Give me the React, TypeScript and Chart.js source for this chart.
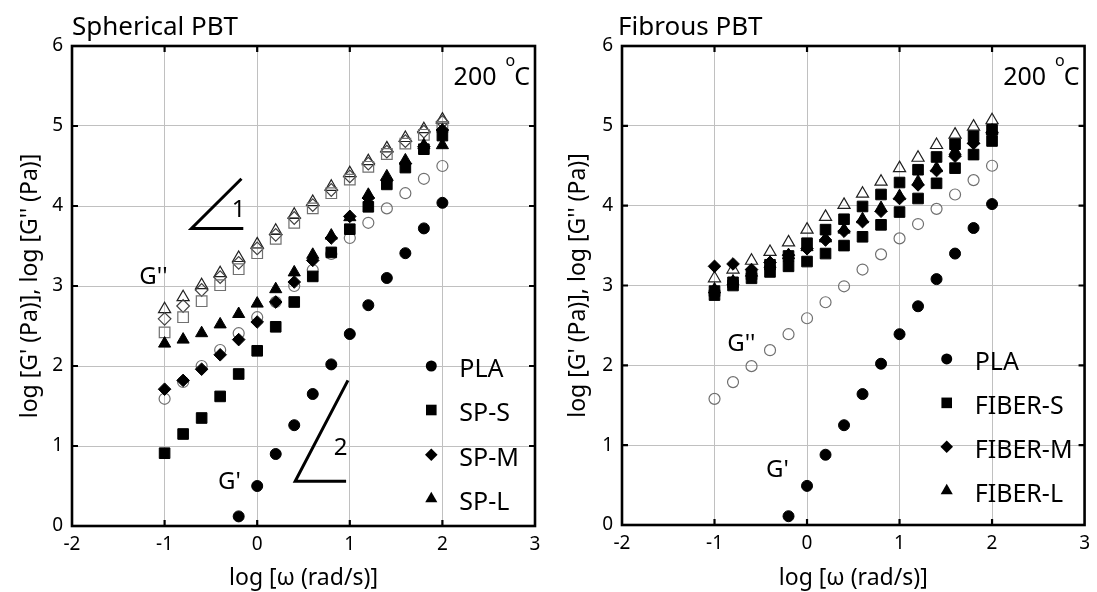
import React, { useEffect, useRef } from "react";
import { Chart, registerables } from "chart.js";

Chart.register(...registerables);

const FONT = '"Noto Sans", "DejaVu Sans", sans-serif';

// ---------- data ----------
const logOmega = [-1, -0.8, -0.6, -0.4, -0.2, 0, 0.2, 0.4, 0.6, 0.8, 1, 1.2, 1.4, 1.6, 1.8, 2];
const xTickValues = [-2, -1, 0, 1, 2, 3];
const yTickValues = [0, 1, 2, 3, 4, 5, 6];

// Spherical PBT panel
const plaG1Sph = [null, null, null, null, 0.12, 0.5, 0.9, 1.26, 1.65, 2.02, 2.4, 2.76, 3.1, 3.41, 3.72, 4.04];
const plaG2Sph = [1.59, 1.8, 2.0, 2.2, 2.41, 2.61, 2.8, 3.0, 3.2, 3.4, 3.6, 3.79, 3.97, 4.16, 4.34, 4.5];
const spsG1 = [0.91, 1.15, 1.35, 1.62, 1.9, 2.19, 2.49, 2.8, 3.12, 3.42, 3.71, 3.99, 4.27, 4.48, 4.71, 4.88];
const spmG1 = [1.71, 1.82, 1.96, 2.14, 2.33, 2.55, 2.8, 3.05, 3.32, 3.6, 3.87, 4.1, 4.32, 4.53, 4.74, 4.95];
const splG1 = [2.28, 2.33, 2.41, 2.52, 2.65, 2.78, 2.96, 3.17, 3.39, 3.63, 3.86, 4.14, 4.37, 4.57, 4.76, 4.76];
const spsG2 = [2.42, 2.61, 2.81, 3.01, 3.21, 3.41, 3.59, 3.79, 3.97, 4.16, 4.33, 4.49, 4.65, 4.78, 4.89, 4.99];
const spmG2 = [2.59, 2.75, 2.95, 3.11, 3.29, 3.47, 3.64, 3.85, 4.01, 4.2, 4.37, 4.53, 4.68, 4.81, 4.93, 5.05];
const splG2 = [2.71, 2.86, 3.01, 3.16, 3.35, 3.52, 3.69, 3.89, 4.05, 4.24, 4.41, 4.56, 4.72, 4.85, 4.96, 5.08];

// Fibrous PBT panel
const plaG1Fib = [null, null, null, null, 0.11, 0.49, 0.88, 1.25, 1.64, 2.02, 2.39, 2.74, 3.08, 3.4, 3.72, 4.02];
const plaG2Fib = [1.58, 1.79, 1.99, 2.19, 2.39, 2.59, 2.79, 2.99, 3.2, 3.39, 3.59, 3.77, 3.96, 4.14, 4.32, 4.5];
const fibSUpper = [2.93, 3.04, 3.14, 3.26, 3.37, 3.53, 3.7, 3.83, 3.99, 4.14, 4.29, 4.45, 4.61, 4.77, 4.87, 4.95];
const fibSLower = [2.88, 3.0, 3.09, 3.17, 3.24, 3.3, 3.4, 3.5, 3.61, 3.76, 3.92, 4.09, 4.28, 4.47, 4.64, 4.81];
const fibM = [3.24, 3.27, 3.2, 3.29, 3.38, 3.46, 3.57, 3.68, 3.8, 3.93, 4.09, 4.26, 4.44, 4.62, 4.78, 4.92];
const fibL = [2.95, 3.05, 3.16, 3.27, 3.38, 3.48, 3.59, 3.7, 3.83, 3.97, 4.12, 4.3, 4.47, 4.68, 4.82, 4.94];
const fibLG2 = [3.09, 3.2, 3.31, 3.42, 3.54, 3.7, 3.86, 4.01, 4.15, 4.3, 4.47, 4.6, 4.76, 4.89, 4.99, 5.07];

// ---------- styling ----------
type MarkerStyle = "circle" | "rect" | "rectRot" | "triangle";
interface SeriesDef {
  label: string;
  values: (number | null)[];
  style: MarkerStyle;
  filled: boolean;
  color: string;
}
const RADIUS: Record<MarkerStyle, number> = { circle: 5.5, rect: 7.5, rectRot: 6.3, triangle: 7 };

interface TextLabel { text: string; x: number; y: number }
interface Slope { ax: number; ay: number; bx: number; by: number; cx: number; label: string; lx: number; ly: number }
interface PanelCfg {
  title: string;
  series: SeriesDef[];
  legend: { label: string; style: MarkerStyle }[];
  legendX: number;
  legendY: number[];
  labels: TextLabel[];
  slopes: Slope[];
  yAxisWidth: number;
  xAxisHeight: number;
  padRight: number;
  titleDx: number;
}

const sphCfg: PanelCfg = {
  title: "Spherical PBT",
  series: [
    { label: "PLA G'", values: plaG1Sph, style: "circle", filled: true, color: "#000" },
    { label: "SP-S G'", values: spsG1, style: "rect", filled: true, color: "#000" },
    { label: "SP-M G'", values: spmG1, style: "rectRot", filled: true, color: "#000" },
    { label: "SP-L G'", values: splG1, style: "triangle", filled: true, color: "#000" },
    { label: "PLA G''", values: plaG2Sph, style: "circle", filled: false, color: "#707070" },
    { label: "SP-S G''", values: spsG2, style: "rect", filled: false, color: "#707070" },
    { label: "SP-M G''", values: spmG2, style: "rectRot", filled: false, color: "#404040" },
    { label: "SP-L G''", values: splG2, style: "triangle", filled: false, color: "#202020" },
  ],
  legend: [
    { label: "PLA", style: "circle" },
    { label: "SP-S", style: "rect" },
    { label: "SP-M", style: "rectRot" },
    { label: "SP-L", style: "triangle" },
  ],
  legendX: 1.88,
  legendY: [2.0, 1.45, 0.89, 0.34],
  labels: [
    { text: "G''", x: -1.12, y: 3.11 },
    { text: "G'", x: -0.3, y: 0.55 },
  ],
  slopes: [
    { ax: -0.71, ay: 3.72, bx: -0.17, by: 4.34, cx: -0.15, label: "1", lx: -0.2, ly: 3.95 },
    { ax: 0.41, ay: 0.56, bx: 0.98, by: 1.82, cx: 0.96, label: "2", lx: 0.9, ly: 0.97 },
  ],
  yAxisWidth: 72,
  xAxisHeight: 66,
  padRight: 13,
  titleDx: 0,
};

const fibCfg: PanelCfg = {
  title: "Fibrous PBT",
  series: [
    { label: "PLA G'", values: plaG1Fib, style: "circle", filled: true, color: "#000" },
    { label: "FIBER-S a", values: fibSUpper, style: "rect", filled: true, color: "#000" },
    { label: "FIBER-M", values: fibM, style: "rectRot", filled: true, color: "#000" },
    { label: "FIBER-L", values: fibL, style: "triangle", filled: true, color: "#000" },
    { label: "FIBER-S b", values: fibSLower, style: "rect", filled: true, color: "#000" },
    { label: "PLA G''", values: plaG2Fib, style: "circle", filled: false, color: "#707070" },
    { label: "FIBER-L G''", values: fibLG2, style: "triangle", filled: false, color: "#202020" },
  ],
  legend: [
    { label: "PLA", style: "circle" },
    { label: "FIBER-S", style: "rect" },
    { label: "FIBER-M", style: "rectRot" },
    { label: "FIBER-L", style: "triangle" },
  ],
  legendX: 1.51,
  legendY: [2.08, 1.53, 0.98, 0.43],
  labels: [
    { text: "G''", x: -0.71, y: 2.27 },
    { text: "G'", x: -0.32, y: 0.69 },
  ],
  slopes: [],
  yAxisWidth: 74,
  xAxisHeight: 67,
  padRight: 11,
  titleDx: -4,
};

function drawMarker(ctx: CanvasRenderingContext2D, style: MarkerStyle, x: number, y: number) {
  const r = RADIUS[style];
  ctx.beginPath();
  if (style === "circle") {
    ctx.arc(x, y, r, 0, Math.PI * 2);
  } else if (style === "rect") {
    const s = r * Math.SQRT1_2;
    ctx.rect(x - s, y - s, 2 * s, 2 * s);
  } else if (style === "rectRot") {
    ctx.moveTo(x - r, y);
    ctx.lineTo(x, y - r);
    ctx.lineTo(x + r, y);
    ctx.lineTo(x, y + r);
    ctx.closePath();
  } else {
    ctx.moveTo(x, y - r);
    ctx.lineTo(x + r * 0.866, y + r * 0.5);
    ctx.lineTo(x - r * 0.866, y + r * 0.5);
    ctx.closePath();
  }
  ctx.fill();
}

function makeOverlay(cfg: PanelCfg) {
  return {
    id: "panelOverlay",
    afterDraw(chart: any) {
      const { ctx, chartArea: a, scales } = chart;
      const xs = scales.x;
      const ys = scales.y;
      const px = (v: number) => xs.getPixelForValue(v);
      const py = (v: number) => ys.getPixelForValue(v);
      ctx.save();
      ctx.strokeStyle = "#000";
      ctx.fillStyle = "#000";
      // frame
      ctx.lineWidth = 2.6;
      ctx.strokeRect(a.left, a.top, a.right - a.left, a.bottom - a.top);
      // inward ticks
      ctx.lineWidth = 2.2;
      ctx.beginPath();
      xTickValues.slice(1, -1).forEach((v) => {
        const x = px(v);
        ctx.moveTo(x, a.top);
        ctx.lineTo(x, a.top + 6);
        ctx.moveTo(x, a.bottom);
        ctx.lineTo(x, a.bottom - 6);
      });
      yTickValues.slice(1, -1).forEach((v) => {
        const y = py(v);
        ctx.moveTo(a.left, y);
        ctx.lineTo(a.left + 6, y);
        ctx.moveTo(a.right, y);
        ctx.lineTo(a.right - 6, y);
      });
      ctx.stroke();
      // panel title
      ctx.font = `26px ${FONT}`;
      ctx.textAlign = "left";
      ctx.textBaseline = "alphabetic";
      ctx.fillText(cfg.title, a.left + cfg.titleDx, 35);
      // temperature
      ctx.font = `25px ${FONT}`;
      ctx.textAlign = "right";
      const rx = a.right - 5;
      ctx.fillText("C", rx, 85);
      const wC = ctx.measureText("C").width;
      ctx.font = `16px ${FONT}`;
      const oRight = rx - wC + 1;
      ctx.fillText("o", oRight, 66);
      const wo = ctx.measureText("o").width;
      ctx.font = `25px ${FONT}`;
      ctx.fillText("200", oRight - wo - 9, 85);
      // G labels
      ctx.font = `24px ${FONT}`;
      ctx.textAlign = "center";
      ctx.textBaseline = "middle";
      cfg.labels.forEach((l) => ctx.fillText(l.text, px(l.x), py(l.y)));
      // slope triangles
      ctx.lineWidth = 3;
      cfg.slopes.forEach((s) => {
        ctx.beginPath();
        ctx.moveTo(px(s.bx), py(s.by));
        ctx.lineTo(px(s.ax), py(s.ay));
        ctx.lineTo(px(s.cx), py(s.ay));
        ctx.stroke();
        ctx.font = `24px ${FONT}`;
        ctx.fillText(s.label, px(s.lx), py(s.ly));
      });
      // legend
      ctx.font = `25px ${FONT}`;
      ctx.textAlign = "left";
      ctx.textBaseline = "middle";
      cfg.legend.forEach((item, i) => {
        const x = px(cfg.legendX);
        const y = py(cfg.legendY[i]);
        drawMarker(ctx, item.style, x, y);
        ctx.fillText(item.label, x + 28, y + 4);
      });
      ctx.restore();
    },
  };
}

function Panel({ cfg, left, width }: { cfg: PanelCfg; left: number; width: number }) {
  const ref = useRef<HTMLCanvasElement>(null);
  useEffect(() => {
    const datasets = cfg.series.map((s) => ({
      label: s.label,
      data: logOmega
        .map((x, i) => ({ x, y: s.values[i] }))
        .filter((p) => p.y !== null && p.y !== undefined),
      pointStyle: s.style,
      pointRadius: RADIUS[s.style],
      pointBackgroundColor: s.filled ? s.color : "rgba(0,0,0,0)",
      pointBorderColor: s.color,
      pointBorderWidth: s.filled ? 1 : 1.2,
      showLine: false,
    }));
    const chart = new Chart(ref.current as HTMLCanvasElement, {
      type: "scatter",
      data: { datasets },
      options: {
        animation: false,
        responsive: false,
        devicePixelRatio: 1,
        layout: { padding: { top: 46, right: cfg.padRight, bottom: 0, left: 0 } },
        plugins: { legend: { display: false }, tooltip: { enabled: false }, title: { display: false } },
        scales: {
          x: {
            type: "linear",
            min: -2,
            max: 3,
            afterFit: (s: any) => {
              s.height = cfg.xAxisHeight;
            },
            afterBuildTicks: (s: any) => {
              s.ticks = xTickValues.map((v) => ({ value: v }));
            },
            ticks: { font: { family: FONT, size: 19 }, color: "#000", padding: 7 },
            grid: { color: "#c0c0c0", lineWidth: 1, drawTicks: false },
            border: { display: false },
            title: {
              display: true,
              text: "log [ω (rad/s)]",
              font: { family: FONT, size: 23 },
              color: "#000",
              padding: { top: 1, bottom: 0 },
            },
          },
          y: {
            type: "linear",
            min: 0,
            max: 6,
            afterFit: (s: any) => {
              s.width = cfg.yAxisWidth;
            },
            afterBuildTicks: (s: any) => {
              s.ticks = yTickValues.map((v) => ({ value: v }));
            },
            ticks: { font: { family: FONT, size: 19 }, color: "#000", padding: 9 },
            grid: { color: "#c0c0c0", lineWidth: 1, drawTicks: false },
            border: { display: false },
            title: {
              display: true,
              text: "log [G' (Pa)], log [G'' (Pa)]",
              font: { family: FONT, size: 23 },
              color: "#000",
              padding: { top: 17, bottom: 0 },
            },
          },
        },
      },
      plugins: [makeOverlay(cfg)],
    } as any);
    return () => chart.destroy();
  }, []);
  return (
    <div style={{ position: "absolute", left, top: 0, width, height: 592 }}>
      <canvas ref={ref} width={width} height={592} style={{ display: "block" }} />
    </div>
  );
}

export default function App() {
  return (
    <div style={{ position: "absolute", left: 0, top: 0, width: 1097, height: 592, background: "#fff" }}>
      <Panel cfg={sphCfg} left={0} width={548} />
      <Panel cfg={fibCfg} left={548} width={549} />
    </div>
  );
}
